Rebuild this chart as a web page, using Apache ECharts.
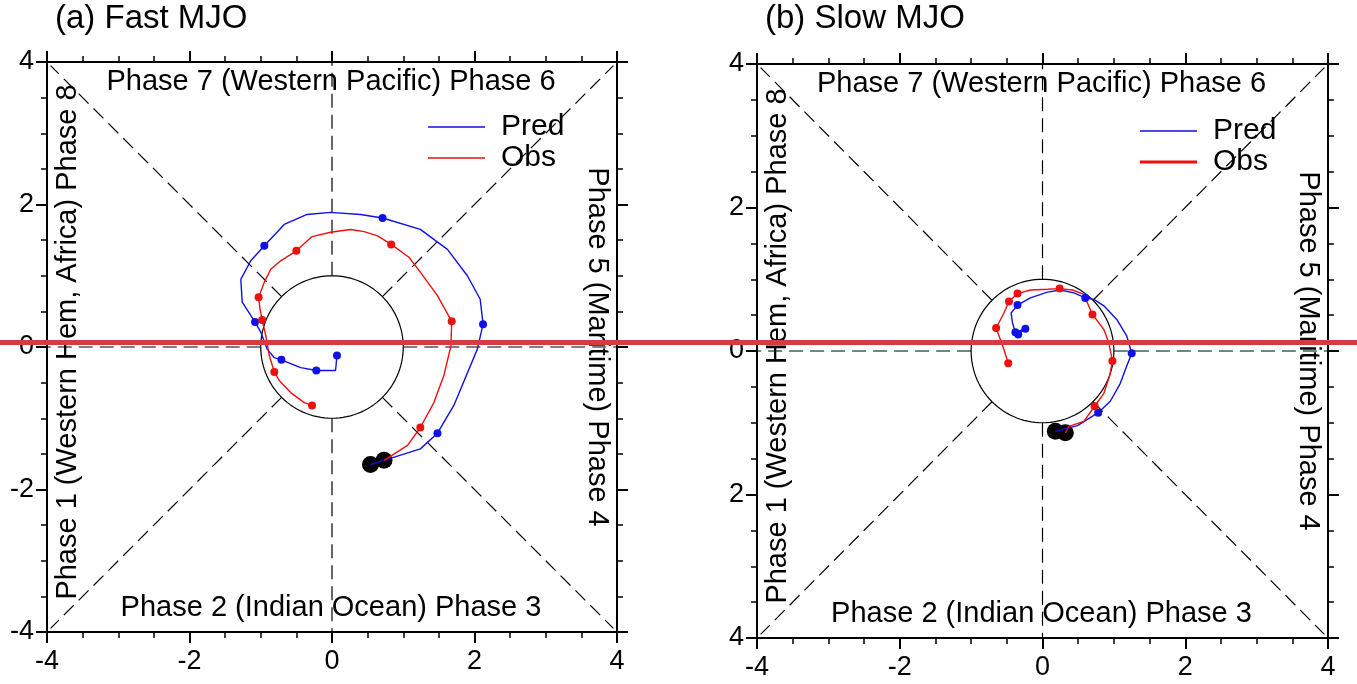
<!DOCTYPE html>
<html>
<head>
<meta charset="utf-8">
<script src="https://cdn.jsdelivr.net/npm/echarts@6/dist/echarts.min.js"></script>
<style>
  html, body { margin: 0; padding: 0; background: #fff; }
  #chart { width: 1357px; height: 684px; }
</style>
</head>
<body>
<div id="chart"></div>
<script>
// RMM phase diagrams (x = RMM1, y = RMM2)
const panelTitles = ['(a) Fast MJO', '(b) Slow MJO'];
const seriesNames = ['Pred', 'Obs'];
const axisTicks = [-4, -2, 0, 2, 4];

const fastPredPath = [
  [0.54, -1.65], [1.24, -1.43], [1.48, -1.21], [1.71, -0.82], [2.04, -0.03], [2.12, 0.32],
  [2.08, 0.67], [1.90, 1.00], [1.62, 1.37], [1.24, 1.65], [0.71, 1.81], [0.40, 1.86],
  [-0.02, 1.89], [-0.35, 1.86], [-0.67, 1.72], [-0.95, 1.42], [-1.14, 1.21], [-1.28, 0.95],
  [-1.26, 0.63], [-1.08, 0.35], [-1.00, 0.21], [-0.91, -0.03], [-0.81, -0.15], [-0.71, -0.18],
  [-0.44, -0.29], [-0.22, -0.33], [0.05, -0.33], [0.07, -0.12]
];
const fastPredDots = [
  [1.48, -1.21], [2.12, 0.32], [0.71, 1.81], [-0.95, 1.42], [-1.08, 0.35], [-0.71, -0.18],
  [-0.22, -0.33], [0.07, -0.12]
];
const fastObsPath = [
  [0.73, -1.59], [1.06, -1.38], [1.24, -1.13], [1.43, -0.78], [1.57, -0.40], [1.67, 0.02],
  [1.68, 0.36], [1.48, 0.72], [1.24, 1.05], [1.08, 1.26], [0.83, 1.44], [0.64, 1.56],
  [0.45, 1.62], [0.26, 1.65], [-0.02, 1.61], [-0.28, 1.55], [-0.50, 1.35], [-0.72, 1.21],
  [-0.86, 1.09], [-0.95, 0.91], [-1.03, 0.70], [-1.01, 0.53], [-0.98, 0.38], [-0.93, 0.16],
  [-0.88, -0.12], [-0.81, -0.35], [-0.74, -0.47], [-0.58, -0.64], [-0.39, -0.78], [-0.28, -0.82]
];
const fastObsDots = [
  [1.24, -1.13], [1.68, 0.36], [0.83, 1.44], [-0.50, 1.35], [-1.03, 0.70], [-0.98, 0.38],
  [-0.81, -0.35], [-0.28, -0.82]
];

const slowPredPath = [
  [0.18, -1.12], [0.49, -1.04], [0.78, -0.86], [0.95, -0.70], [1.09, -0.45], [1.18, -0.21],
  [1.25, -0.03], [1.18, 0.21], [1.04, 0.44], [0.86, 0.63], [0.72, 0.72], [0.60, 0.74],
  [0.44, 0.81], [0.25, 0.85], [0.07, 0.82], [-0.17, 0.74], [-0.35, 0.64], [-0.44, 0.53],
  [-0.42, 0.39], [-0.38, 0.26], [-0.24, 0.31], [-0.34, 0.23]
];
const slowPredDots = [
  [0.78, -0.86], [1.25, -0.03], [0.60, 0.74], [-0.35, 0.64], [-0.38, 0.26], [-0.24, 0.31],
  [-0.34, 0.23]
];
const slowObsPath = [
  [0.32, -1.14], [0.37, -1.05], [0.58, -0.98], [0.73, -0.77], [0.86, -0.59], [0.94, -0.35],
  [0.98, -0.14], [0.93, 0.11], [0.86, 0.30], [0.70, 0.51], [0.63, 0.67], [0.58, 0.79],
  [0.42, 0.85], [0.24, 0.87], [0.07, 0.86], [-0.17, 0.85], [-0.35, 0.80], [-0.47, 0.69],
  [-0.54, 0.53], [-0.65, 0.32], [-0.59, 0.16], [-0.54, 0.02], [-0.48, -0.17]
];
const slowObsDots = [
  [0.73, -0.77], [0.98, -0.14], [0.70, 0.51], [0.24, 0.87], [-0.35, 0.80], [-0.47, 0.69],
  [-0.65, 0.32], [-0.48, -0.17]
];

const BLUE = '#1010e8';
const RED = '#ec1010';
const FONT = '"Liberation Sans", Arial, Helvetica, sans-serif';

// plot frames in pixels
const frames = [
  {left: 47, top: 62, width: 570, height: 570},
  {left: 757, top: 64, width: 571, height: 574}
];

const chart = echarts.init(document.getElementById('chart'));

// unit circle and phase boundary lines (diagram furniture)
const circle = [];
for (let a = 0; a <= 360; a += 3) {
  circle.push([Math.cos(a * Math.PI / 180), Math.sin(a * Math.PI / 180)]);
}
const d = Math.SQRT1_2;
const phaseLines = [
  [[0, 1], [0, 4]], [[0, -1], [0, -4]], [[1, 0], [4, 0]], [[-1, 0], [-4, 0]],
  [[d, d], [3.95, 3.95]], [[-d, d], [-3.95, 3.95]], [[d, -d], [3.95, -3.95]], [[-d, -d], [-3.95, -3.95]]
];

function makeAxis(type, idx, pos, showLabel, absLabel) {
  return {
    type: 'value', gridIndex: idx, position: pos,
    min: -4, max: 4, interval: 2,
    axisLine: {show: true, onZero: false, lineStyle: {color: '#000', width: 2}},
    axisTick: {show: true, inside: false, length: 11, lineStyle: {color: '#000', width: 2}},
    minorTick: {show: true, splitNumber: 4, length: 6, lineStyle: {color: '#000', width: 1.5}},
    splitLine: {show: false},
    axisLabel: {
      show: showLabel, color: '#000', fontSize: 27, fontFamily: FONT,
      margin: type === 'x' ? 16 : 13,
      formatter: v => absLabel ? String(Math.abs(v)) : String(v)
    }
  };
}

const grid = [], xAxis = [], yAxis = [], series = [], graphic = [];

const panels = [
  {pred: fastPredPath, predDots: fastPredDots, obs: fastObsPath, obsDots: fastObsDots},
  {pred: slowPredPath, predDots: slowPredDots, obs: slowObsPath, obsDots: slowObsDots}
];

panels.forEach((p, i) => {
  const f = frames[i];
  grid.push({left: f.left, top: f.top, width: f.width, height: f.height, containLabel: false});
  xAxis.push(makeAxis('x', i, 'bottom', true, false));
  xAxis.push(makeAxis('x', i, 'top', false, false));
  yAxis.push(makeAxis('y', i, 'left', true, i === 1));
  yAxis.push(makeAxis('y', i, 'right', false, false));
  const ax = {xAxisIndex: 2 * i, yAxisIndex: 2 * i};

  phaseLines.forEach(seg => series.push(Object.assign({
    type: 'line', data: seg, showSymbol: false, silent: true,
    lineStyle: {color: '#000', width: 1.2, opacity: 1, type: [14, 7]}
  }, ax)));
  series.push(Object.assign({
    type: 'line', data: circle, showSymbol: false, silent: true,
    lineStyle: {color: '#000', width: 1.2}
  }, ax));

  series.push(Object.assign({
    name: seriesNames[0], type: 'line', data: p.pred, showSymbol: false, z: 5,
    lineStyle: {color: BLUE, width: 1.4}
  }, ax));
  series.push(Object.assign({
    type: 'scatter', data: p.predDots, symbolSize: 8, z: 6,
    itemStyle: {color: BLUE, opacity: 1}
  }, ax));
  series.push(Object.assign({
    name: seriesNames[1], type: 'line', data: p.obs, showSymbol: false, z: 5,
    lineStyle: {color: RED, width: 1.4}
  }, ax));
  series.push(Object.assign({
    type: 'scatter', data: p.obsDots, symbolSize: 8, z: 6,
    itemStyle: {color: RED, opacity: 1}
  }, ax));
  // starting positions
  series.push(Object.assign({
    type: 'scatter', data: [p.pred[0], p.obs[0]], symbolSize: 17, z: 4,
    itemStyle: {color: '#000', opacity: 1}
  }, ax));

  const cx = f.left + f.width / 2;
  const cy = f.top + f.height / 2;
  const txt = (text, x, y, rot, size, align) => graphic.push({
    type: 'text', x: x, y: y, rotation: rot || 0, z: 1, silent: true,
    style: {text: text, font: (size || 29) + 'px ' + FONT, fill: '#000',
      align: align || 'center', verticalAlign: 'middle'}
  });
  txt(panelTitles[i], f.left + 8, 19, 0, 33, 'left');
  txt('Phase 7 (Western Pacific) Phase 6', cx - 1, f.top + 20, 0);
  txt('Phase 2 (Indian Ocean) Phase 3', cx - 1, f.top + f.height - 24, 0);
  txt('Phase 1 (Western Hem, Africa) Phase 8', f.left + 21, cy - 5, Math.PI / 2);
  txt('Phase 5 (Maritime) Phase 4', f.left + f.width - 20, cy, -Math.PI / 2);

  // legend
  const lx = i === 0 ? 428 : 1140;
  const ly = i === 0 ? 127 : 131;
  graphic.push({type: 'line', silent: true, shape: {x1: lx, y1: ly, x2: lx + 57, y2: ly},
    style: {stroke: BLUE, lineWidth: 1.5}});
  graphic.push({type: 'line', silent: true, shape: {x1: lx, y1: ly + 31, x2: lx + 57, y2: ly + 31},
    style: {stroke: RED, lineWidth: i === 0 ? 1.5 : 3}});
  txt(seriesNames[0], lx + 73, ly, 0, 30, 'left');
  txt(seriesNames[1], lx + 73, ly + 31, 0, 30, 'left');
});

// red horizontal bar across the whole figure
graphic.push({type: 'rect', silent: true, z: 100, shape: {x: 0, y: 340, width: 1357, height: 5},
  style: {fill: '#d93a3f'}});

chart.setOption({
  animation: false,
  backgroundColor: '#fff',
  grid: grid,
  xAxis: xAxis,
  yAxis: yAxis,
  series: series,
  graphic: graphic
});
</script>
</body>
</html>
